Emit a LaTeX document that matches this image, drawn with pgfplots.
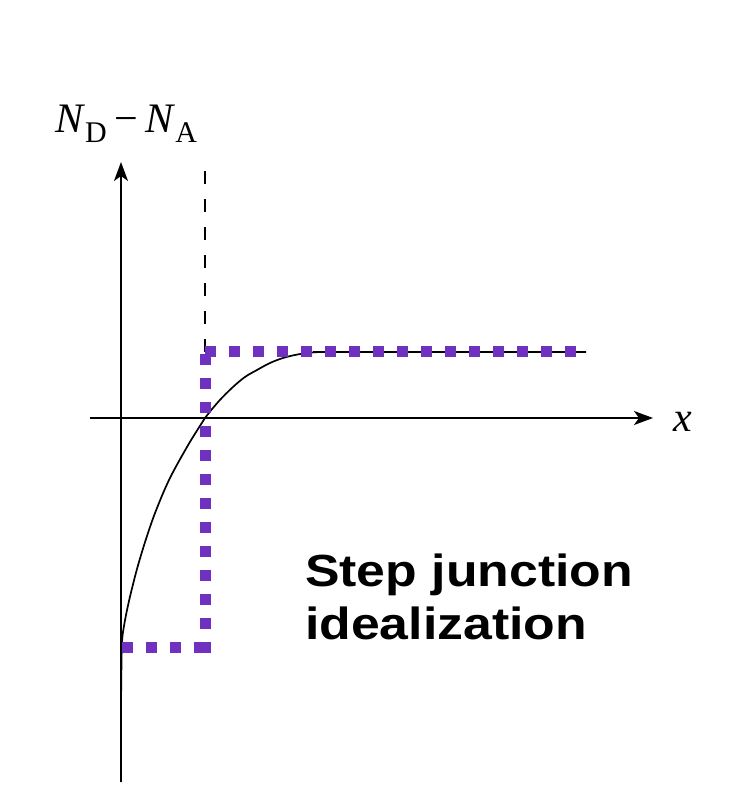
\documentclass[border=0pt]{standalone}
\usepackage{pgfplots}
\pgfplotsset{compat=1.18}
\usepackage{fontspec}
\setmainfont{Liberation Serif}
\newfontfamily\labelsans{Liberation Sans}
\usetikzlibrary{arrows.meta}
\definecolor{stepviolet}{RGB}{112,48,192}
\begin{document}
\begin{tikzpicture}
\begin{axis}[
  scale only axis, width=753pt, height=796pt,
  xmin=-121, xmax=632, ymin=-378, ymax=418,
  hide axis, clip=false]
\path (axis cs:-121,-378) rectangle (axis cs:632,418);
% coordinate axes
\addplot[black, line width=1.6pt, -{Stealth[length=19pt,width=14pt,inset=5pt]}] coordinates {(0,-364) (0,256)};
\addplot[black, line width=1.6pt, -{Stealth[length=19pt,width=14pt,inset=5pt]}] coordinates {(-31,0) (532,0)};
% metallurgical junction (dashed)
\addplot[black, line width=1.1pt, dash pattern=on 13pt off 15pt] coordinates {(84,66) (84,253)};
% actual doping profile
\addplot[black, line width=1.7pt, smooth, tension=0.6] coordinates {
 (0,-364) (0,-300) (0.3,-260) (1,-225) (3,-208) (8,-183) (16,-151) (26,-118) (36,-90) (49,-60) (66,-29) (77,-11) (84,0)
 (98,17) (112,31) (124,41) (136,48) (149,55) (162,60) (174,63) (186,65) (200,66) (215,66) (465,66)};
% step junction idealization
\addplot[stepviolet, line width=11pt, line cap=butt, dash pattern=on 11pt off 13pt] coordinates {(1,-230) (89,-230)};
\addplot[stepviolet, line width=11pt, line cap=butt, dash pattern=on 11pt off 13pt] coordinates {(84,-235) (84,71)};
\addplot[stepviolet, line width=11pt, line cap=butt, dash pattern=on 11pt off 13pt] coordinates {(84,66) (457,66)};
% labels
\node[anchor=base west, inner sep=0pt] at (axis cs:-66,285) {\fontsize{42}{46}\selectfont\textit{N}\raisebox{-10pt}{\fontsize{30}{32}\selectfont D}\hspace{8pt}−\hspace{7pt}\textit{N}\raisebox{-10pt}{\fontsize{30}{32}\selectfont A}};
\node[anchor=center, inner sep=0pt] at (axis cs:562,-4) {\fontsize{42}{46}\selectfont\textit{x}};
\node[anchor=base west, inner sep=0pt] at (axis cs:184,-169) {\scalebox{1.15}[1]{\labelsans\bfseries\fontsize{45}{50}\selectfont Step junction}};
\node[anchor=base west, inner sep=0pt] at (axis cs:184,-222) {\scalebox{1.15}[1]{\labelsans\bfseries\fontsize{45}{50}\selectfont idealization}};
\end{axis}
\end{tikzpicture}
\end{document}
